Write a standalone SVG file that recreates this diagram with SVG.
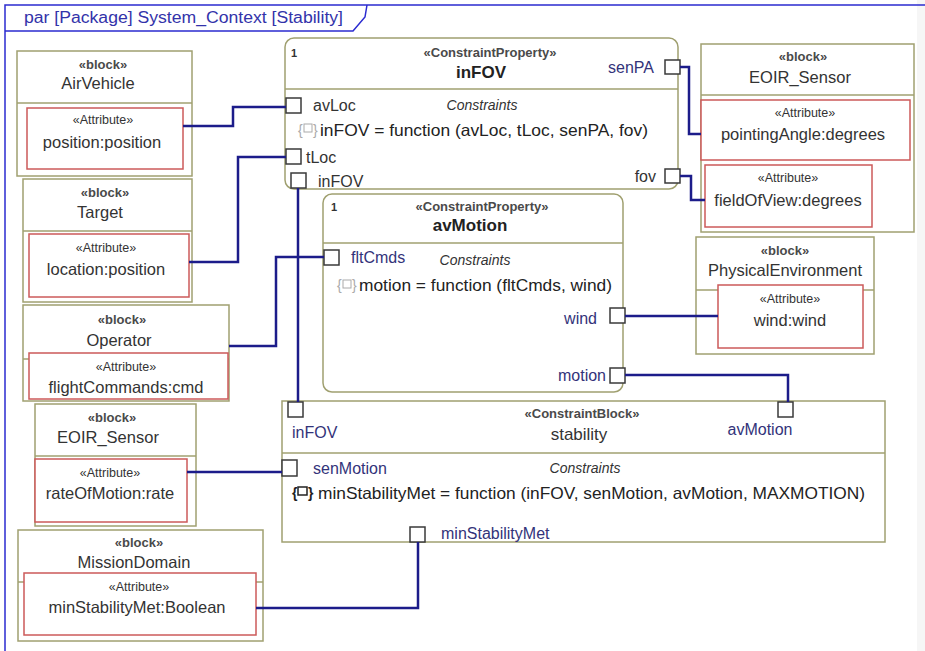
<svg xmlns="http://www.w3.org/2000/svg" width="925" height="651" viewBox="0 0 925 651">
<style>
text{font-family:"Liberation Sans",Arial,sans-serif;fill:#333}
.st{font-size:13px;text-anchor:middle;font-weight:bold;fill:#4a4a4a}
.sa{font-size:12.5px;text-anchor:middle;fill:#333}
.nm{font-size:16.5px;text-anchor:middle;fill:#333}
.av{font-size:16.5px;text-anchor:middle;fill:#333}
.blk{fill:#fff;stroke:#a0a070;stroke-width:1.5}
.div{stroke:#a0a070;stroke-width:1.5}
.att{fill:#fff;stroke:#cc5a5a;stroke-width:1.5}
.port{fill:#fff;stroke:#3a3a3a;stroke-width:1.5}
.pl{font-size:16px;fill:#333}
.pn{font-size:16px;fill:#33337a}
.cn{font-size:14px;font-style:italic;text-anchor:middle;fill:#333}
.fx{font-size:16.5px;fill:#222}
.b1{font-size:11px;font-weight:bold;fill:#333}
.icon{font-size:14px;fill:#aaa}
.conn{fill:none;stroke:#1c1c8a;stroke-width:2.5}
</style>
<rect x="917" y="0" width="8" height="651" fill="#f6f6f6"/>
<g id="frame">
<path d="M5,651 V5 H925" fill="none" stroke="#2b2bd0" stroke-width="1.5"/>
<path d="M5,31 H353 L365,17 L367,5" fill="none" stroke="#2b2bd0" stroke-width="1.5"/>
<text x="24" y="23" font-size="16" style="fill:#3333aa" textLength="319" lengthAdjust="spacingAndGlyphs">par [Package] System_Context [Stability]</text>
</g>

<g id="AirVehicle">
<rect class="blk" x="17" y="51" width="175" height="125"/>
<line class="div" x1="17" y1="103" x2="192" y2="103"/>
<text class="st" x="103" y="69">«block»</text>
<text class="nm" x="98" y="89">AirVehicle</text>
<rect class="att" x="27" y="108" width="156" height="61"/>
<text class="sa" x="103" y="124">«Attribute»</text>
<text class="av" x="102" y="148">position:position</text>
</g>

<g id="Target">
<rect class="blk" x="23" y="179" width="169" height="123"/>
<line class="div" x1="23" y1="231" x2="192" y2="231"/>
<text class="st" x="105" y="197">«block»</text>
<text class="nm" x="100" y="218">Target</text>
<rect class="att" x="29" y="234" width="160" height="63"/>
<text class="sa" x="106" y="252">«Attribute»</text>
<text class="av" x="106" y="275">location:position</text>
</g>

<g id="Operator">
<rect class="blk" x="23" y="305" width="206" height="96"/>
<line class="div" x1="23" y1="359" x2="229" y2="359"/>
<text class="st" x="122" y="324">«block»</text>
<text class="nm" x="119" y="346">Operator</text>
<rect class="att" x="29" y="353" width="199" height="46"/>
<text class="sa" x="126" y="371">«Attribute»</text>
<text class="av" x="126" y="393">flightCommands:cmd</text>
</g>

<g id="EOIR_Sensor_motion">
<rect class="blk" x="35" y="404" width="161" height="122"/>
<line class="div" x1="35" y1="456" x2="196" y2="456"/>
<text class="st" x="112" y="422">«block»</text>
<text class="nm" x="108" y="443">EOIR_Sensor</text>
<rect class="att" x="35" y="459" width="152" height="63"/>
<text class="sa" x="110" y="477">«Attribute»</text>
<text class="av" x="110" y="499">rateOfMotion:rate</text>
</g>

<g id="MissionDomain">
<rect class="blk" x="18" y="530" width="245" height="111"/>
<line class="div" x1="18" y1="582" x2="263" y2="582"/>
<text class="st" x="139" y="547">«block»</text>
<text class="nm" x="134" y="568">MissionDomain</text>
<rect class="att" x="24" y="573" width="232" height="62"/>
<text class="sa" x="139" y="591">«Attribute»</text>
<text class="av" x="137" y="613">minStabilityMet:Boolean</text>
</g>

<g id="EOIR_Sensor">
<rect class="blk" x="701" y="44" width="213" height="188"/>
<line class="div" x1="701" y1="95" x2="914" y2="95"/>
<text class="st" x="803" y="61">«block»</text>
<text class="nm" x="800" y="83">EOIR_Sensor</text>
<rect class="att" x="701" y="100" width="209" height="60"/>
<text class="sa" x="805" y="117">«Attribute»</text>
<text class="av" x="803" y="140">pointingAngle:degrees</text>
<rect class="att" x="705" y="165" width="167" height="62"/>
<text class="sa" x="788" y="182">«Attribute»</text>
<text class="av" x="788" y="206">fieldOfView:degrees</text>
</g>

<g id="PhysicalEnvironment">
<rect class="blk" x="696" y="237" width="178" height="117"/>
<line class="div" x1="696" y1="290" x2="874" y2="290"/>
<text class="st" x="785" y="255">«block»</text>
<text class="nm" x="785" y="276">PhysicalEnvironment</text>
<rect class="att" x="718" y="285" width="145" height="63"/>
<text class="sa" x="790" y="303">«Attribute»</text>
<text class="av" x="790" y="326">wind:wind</text>
</g>

<g id="inFOV">
<rect class="blk" x="285" y="38" width="393" height="151" rx="9"/>
<line class="div" x1="285" y1="89" x2="678" y2="89"/>
<text class="b1" x="291" y="57">1</text>
<text class="st" x="490" y="57">«ConstraintProperty»</text>
<text x="481" y="78" font-size="17" font-weight="bold" text-anchor="middle" style="fill:#222">inFOV</text>
<text class="cn" x="482" y="110">Constraints</text>
<text class="icon" x="298" y="135">{</text><rect x="304" y="124" width="8" height="8" fill="none" stroke="#aaa" stroke-width="1"/><text class="icon" x="313" y="135">}</text>
<text class="fx" x="320" y="136" textLength="328" lengthAdjust="spacingAndGlyphs">inFOV = function (avLoc, tLoc, senPA, fov)</text>
<rect class="port" x="286" y="98" width="15" height="15"/>
<text class="pl" x="313" y="111">avLoc</text>
<rect class="port" x="286" y="149" width="15" height="15"/>
<text class="pl" x="306" y="163">tLoc</text>
<rect class="port" x="291" y="173" width="15" height="15"/>
<text class="pl" x="318" y="187">inFOV</text>
<rect class="port" x="665" y="60" width="15" height="14"/>
<text class="pn" x="654" y="73" text-anchor="end">senPA</text>
<rect class="port" x="665" y="169" width="15" height="14"/>
<text class="pl" x="656" y="182" text-anchor="end">fov</text>
</g>

<g id="avMotion">
<rect class="blk" x="323" y="194" width="300" height="198" rx="9"/>
<line class="div" x1="323" y1="243" x2="623" y2="243"/>
<text class="b1" x="331" y="211">1</text>
<text class="st" x="482" y="211">«ConstraintProperty»</text>
<text x="470" y="231" font-size="17" font-weight="bold" text-anchor="middle" style="fill:#222">avMotion</text>
<text class="cn" x="475" y="265">Constraints</text>
<text class="icon" x="337" y="290">{</text><rect x="343" y="280" width="8" height="8" fill="none" stroke="#aaa" stroke-width="1"/><text class="icon" x="352" y="290">}</text>
<text class="fx" x="359" y="291" textLength="253" lengthAdjust="spacingAndGlyphs">motion = function (fltCmds, wind)</text>
<rect class="port" x="324" y="250" width="15" height="15"/>
<text class="pn" x="351" y="263">fltCmds</text>
<rect class="port" x="610" y="308" width="15" height="15"/>
<text class="pn" x="597" y="324" text-anchor="end">wind</text>
<rect class="port" x="610" y="368" width="15" height="15"/>
<text class="pn" x="606" y="381" text-anchor="end">motion</text>
</g>

<g id="stability">
<rect class="blk" x="282" y="401" width="603" height="141"/>
<line class="div" x1="282" y1="453" x2="885" y2="453"/>
<text class="st" x="582" y="418">«ConstraintBlock»</text>
<text x="579" y="440" font-size="17" text-anchor="middle" style="fill:#333">stability</text>
<text class="cn" x="585" y="473">Constraints</text>
<text x="292" y="498" font-size="14" font-weight="bold" style="fill:#222">{</text><rect x="298" y="487" width="9" height="8" fill="none" stroke="#222" stroke-width="1.5"/><text x="308" y="498" font-size="14" font-weight="bold" style="fill:#222">}</text>
<text class="fx" x="318" y="499" textLength="547" lengthAdjust="spacingAndGlyphs">minStabilityMet = function (inFOV, senMotion, avMotion, MAXMOTION)</text>
<rect class="port" x="288" y="402" width="15" height="15"/>
<text class="pn" x="292" y="438">inFOV</text>
<rect class="port" x="282" y="460" width="15" height="16"/>
<text class="pn" x="313" y="474">senMotion</text>
<rect class="port" x="778" y="402" width="15" height="15"/>
<text class="pn" x="760" y="435" text-anchor="middle">avMotion</text>
<rect class="port" x="410" y="527" width="15" height="15"/>
<text class="pn" x="441" y="539">minStabilityMet</text>
</g>

<g id="connectors">
<path class="conn" d="M183,126 H233 V107 H286"/>
<path class="conn" d="M189,262 H238 V157 H286"/>
<path class="conn" d="M229,346 H276 V257 H324"/>
<path class="conn" d="M298,188 V402"/>
<path class="conn" d="M680,67 H689 V134 H701"/>
<path class="conn" d="M680,176 H691 V200 H705"/>
<path class="conn" d="M625,316 H718"/>
<path class="conn" d="M625,375 H788 V402"/>
<path class="conn" d="M187,472 H282"/>
<path class="conn" d="M418,542 V608 H256"/>
</g>
</svg>
